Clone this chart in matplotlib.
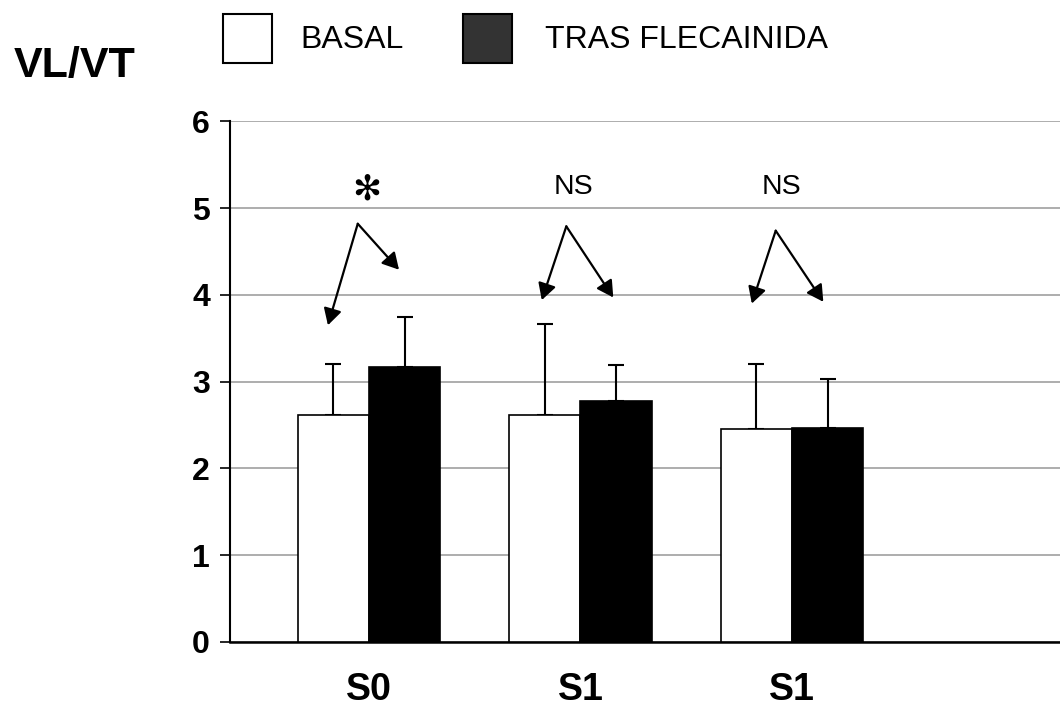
import matplotlib
matplotlib.use("Agg")
import matplotlib.pyplot as plt
from matplotlib.patches import Rectangle
import numpy as np

plt.rcParams['font.family'] = ['Liberation Sans', 'DejaVu Sans']

# Data
groups = ['S0', 'S1', 'S1']
basal = [2.61, 2.61, 2.45]
basal_err = [0.59, 1.05, 0.75]
flec = [3.17, 2.78, 2.47]
flec_err = [0.58, 0.41, 0.56]
sig_labels = ['*', 'NS', 'NS']
series_names = ['BASAL', 'TRAS FLECAINIDA']
yticks = [0, 1, 2, 3, 4, 5, 6]

# Arrow geometry (offset from group centre, y in data units)
arrow_start = [(-0.053, 4.82), (-0.067, 4.79), (-0.077, 4.74)]
arrow_left = [(-0.194, 3.65), (-0.183, 3.94), (-0.19, 3.90)]
arrow_right = [(0.142, 4.29), (0.155, 3.97), (0.148, 3.92)]

W, H = 1060, 711
fig = plt.figure(figsize=(W / 100, H / 100), dpi=100)
ax = fig.add_axes([230 / W, (H - 641.8) / H, 1 - 230 / W, (641.8 - 121.4) / H])

x = np.arange(len(groups))
w = 0.336

ax.bar(x - w / 2, basal, w, color='white', edgecolor='black', linewidth=1.2, zorder=3)
ax.bar(x + w / 2, flec, w, color='black', edgecolor='black', linewidth=1.2, zorder=3)

zeros = [0] * len(groups)
ax.errorbar(x - w / 2, basal, yerr=[zeros, basal_err], fmt='none', ecolor='black',
            elinewidth=1.5, capsize=5.5, capthick=1.5, zorder=2)
ax.errorbar(x + w / 2, flec, yerr=[zeros, flec_err], fmt='none', ecolor='black',
            elinewidth=1.5, capsize=5.5, capthick=1.5, zorder=2)

# significance arrows and labels
for i in range(len(groups)):
    sx, sy = arrow_start[i]
    for tx, ty in (arrow_left[i], arrow_right[i]):
        ax.annotate('', xy=(i + tx, ty), xytext=(i + sx, sy),
                    arrowprops=dict(arrowstyle='-|>,head_length=0.45,head_width=0.25',
                                    color='black', lw=1.6,
                                    mutation_scale=22, shrinkA=0, shrinkB=0))
    if sig_labels[i] == '*':
        ax.text(i - 0.01, 5.22, '\u273b', ha='center', va='center', fontsize=25,
                family='DejaVu Sans')
    else:
        ax.text(i - 0.035 - 0.017 * (i - 1), 5.24, sig_labels[i], ha='center',
                va='center', fontsize=20.5)

ax.set_xlim(-0.657, 3.267)
ax.set_ylim(0, 6)
ax.set_yticks(yticks)
ax.set_yticklabels([str(t) for t in yticks], fontsize=23, fontweight='bold')
ax.set_xticks(x)
ax.set_xticklabels(groups, fontsize=27, fontweight='bold')
ax.tick_params(axis='x', length=0, pad=22)
ax.tick_params(axis='y', length=7.5, width=1.2, pad=7, direction='out')
ax.yaxis.grid(True, color='#a0a0a0', linewidth=1.2, zorder=0)
ax.set_axisbelow(True)
for s in ['top', 'right']:
    ax.spines[s].set_visible(False)
ax.spines['left'].set_linewidth(1.5)
ax.spines['bottom'].set_linewidth(1.8)

# y axis title
fig.text(14 / W, 1 - 66 / H, 'VL/VT', fontsize=31, fontweight='bold',
         ha='left', va='center')

# legend drawn in figure pixels
box_colors = ['white', '#333333']
box_x = [223, 463]
text_x = [300, 545]
for name, c, bx, tx in zip(series_names, box_colors, box_x, text_x):
    fig.patches.append(Rectangle((bx / W, 1 - 63 / H), 49 / W, 49 / H,
                                 facecolor=c, edgecolor='black', linewidth=1.5,
                                 transform=fig.transFigure, figure=fig))
    fig.text(tx / W, 1 - 40.5 / H, name, fontsize=23, ha='left', va='center')

fig.savefig('out.png', dpi=100)
